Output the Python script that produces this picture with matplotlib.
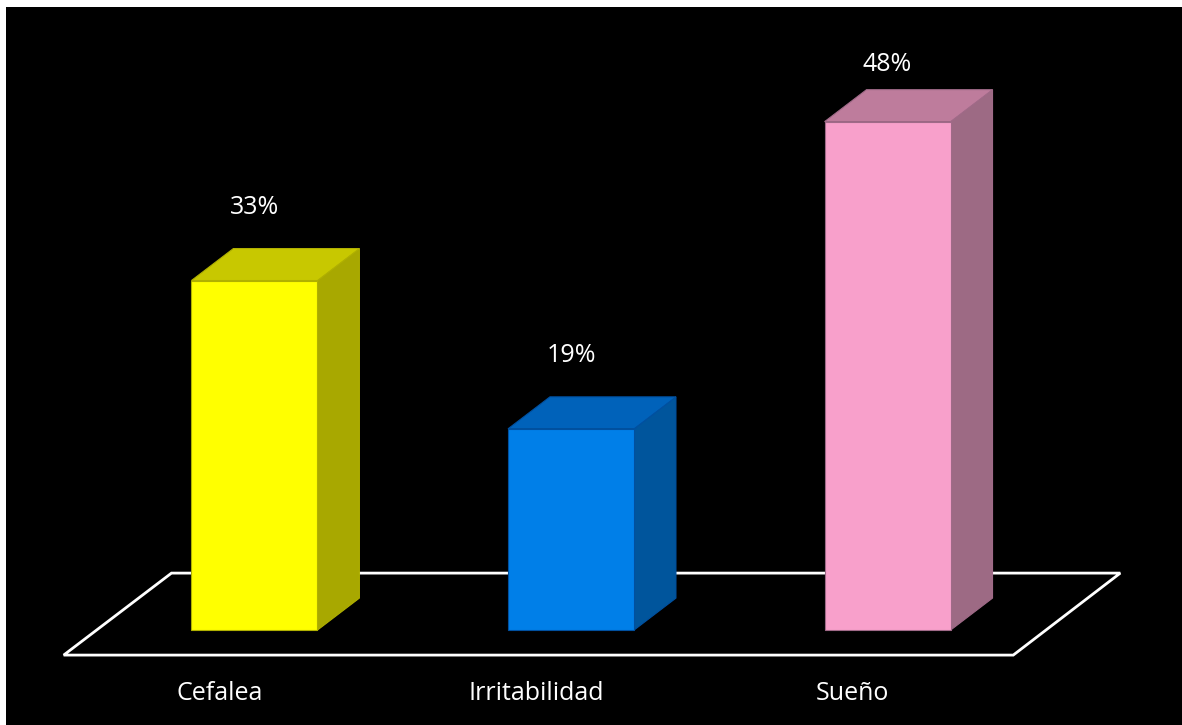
import matplotlib
matplotlib.use("Agg")
import matplotlib.pyplot as plt
from matplotlib.patches import Polygon

# datos del grafico
categorias = ["Cefalea", "Irritabilidad", "Sueño"]
valores = [33, 19, 48]
etiquetas = ["33%", "19%", "48%"]
color_frente = ["#FFFF00", "#007FE8", "#F8A0CB"]
color_tapa = ["#C8C800", "#0062BA", "#BE7C9C"]
color_lado = ["#A8A800", "#00559C", "#9D6A84"]
color_borde = ["#B0B000", "#0050A0", "#A06A88"]

plt.rcParams["font.family"] = ["Open Sans", "DejaVu Sans"]

fig = plt.figure(figsize=(11.82, 7.25), dpi=100, facecolor="white")
ax = fig.add_axes([0.005, 0.0, 0.995, 0.99])
ax.set_facecolor("black")
ax.set_xlim(-0.785, 2.93)
ax.set_ylim(-8.96, 58.8)
for s in ax.spines.values():
    s.set_visible(False)
ax.set_xticks([])
ax.set_yticks([])

ancho = 0.398
dx, dy = 0.1325, 3.02  # profundidad de las barras

# piso
piso = Polygon([(-0.6025, -2.36), (2.397, -2.36), (2.735, 5.38), (-0.262, 5.38)],
               closed=True, fill=False, edgecolor="white", linewidth=2, zorder=1)
ax.add_patch(piso)

for i, v in enumerate(valores):
    x0 = i - ancho / 2
    x1 = i + ancho / 2
    frente = Polygon([(x0, 0), (x1, 0), (x1, v), (x0, v)], closed=True,
                     facecolor=color_frente[i], edgecolor=color_borde[i], lw=0.8, zorder=3)
    tapa = Polygon([(x0, v), (x1, v), (x1 + dx, v + dy), (x0 + dx, v + dy)], closed=True,
                   facecolor=color_tapa[i], edgecolor=color_borde[i], lw=0.8, zorder=3)
    lado = Polygon([(x1, 0), (x1 + dx, dy), (x1 + dx, v + dy), (x1, v)], closed=True,
                   facecolor=color_lado[i], edgecolor=color_borde[i], lw=0.8, zorder=3)
    for p in (lado, tapa, frente):
        ax.add_patch(p)
    # la etiqueta no sube mas alla del area del grafico
    y_et = min(v + 6.9, 53.4)
    ax.text(i, y_et, etiquetas[i], color="white", fontsize=18,
            ha="center", va="center", zorder=4)
    ax.text(i - 0.11, -6.0, categorias[i], color="white", fontsize=18,
            ha="center", va="center", zorder=4)

fig.savefig("out.png", dpi=100, facecolor="white")
